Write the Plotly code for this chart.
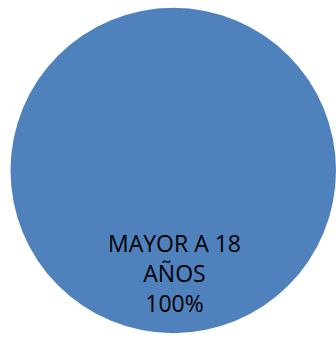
import plotly.graph_objects as go

# Age-group breakdown
categories = ["MAYOR A 18 AÑOS"]
values = [100]
colors = ["#4F81BD"]

W, H = 336, 339

total = sum(values)
pct = [v / total * 100 for v in values]

fig = go.Figure(
    go.Pie(
        labels=categories,
        values=values,
        marker=dict(colors=colors, line=dict(width=0)),
        textinfo="none",
        hoverinfo="label+percent",
        sort=False,
        showlegend=False,
        domain=dict(x=[10.5 / W, 1.0], y=[5 / H, 332 / H]),
    )
)

# Category label with its share, placed in the lower part of the disc
label = "MAYOR A 18<br>AÑOS<br>{:.0f}%".format(pct[0])
fig.add_annotation(
    x=174 / W,
    y=(H - 273) / H,
    xref="paper",
    yref="paper",
    xanchor="center",
    yanchor="middle",
    text=label,
    showarrow=False,
    font=dict(family="Open Sans, sans-serif", size=23, color="#000000"),
)

fig.update_layout(
    width=W,
    height=H,
    margin=dict(l=0, r=0, t=0, b=0),
    paper_bgcolor="#FFFFFF",
    plot_bgcolor="#FFFFFF",
)

fig.write_html("out.html")
